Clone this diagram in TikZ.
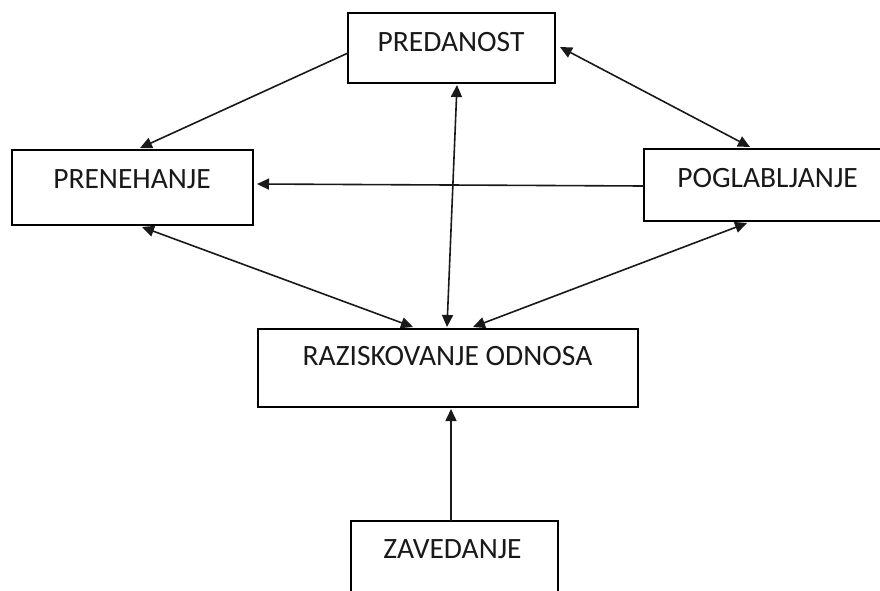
\documentclass[tikz,border=0pt]{standalone}
\usepackage{fontspec}
\setmainfont{Carlito}
\usetikzlibrary{arrows.meta,calc}
\tikzset{
  boxnode/.style={draw=black,line width=1.8pt,inner sep=0pt,outer sep=0pt},
  lbl/.style={anchor=base,inner sep=0pt,font=\fontsize{29.5}{33}\selectfont,text=black!90},
  conn/.style={line width=1.6pt,draw=black!90},
  tipa/.style={-{Triangle[length=12pt,width=11pt]}},
  tipb/.style={{Triangle[length=12pt,width=11pt]}-{Triangle[length=12pt,width=11pt]}}
}
\begin{document}
\begin{tikzpicture}[x=1pt,y=-1pt]
\useasboundingbox (0,0) rectangle (880,590);
\clip (0,0) rectangle (880,590);
\fill[white] (0,0) rectangle (880,590);
% boxes
\node[boxnode,minimum width=207pt,minimum height=70pt] (pred) at (451.5,48) {};
\node[boxnode,minimum width=241pt,minimum height=75pt] (pren) at (132.5,187.5) {};
\node[boxnode,minimum width=256pt,minimum height=72pt] (pogl) at (772,185) {};
\node[boxnode,minimum width=380pt,minimum height=78pt] (razi) at (448,368) {};
\node[boxnode,minimum width=207pt,minimum height=99pt] (zav) at (454.5,570.5) {};
% labels
\node[lbl] (tpred) at (451,51) {PREDANOST};
\node[lbl] (tpren) at (132,188) {PRENEHANJE};
\node[lbl] (tpogl) at (767.5,187) {POGLABLJANJE};
\node[lbl] (trazi) at (447.5,365) {RAZISKOVANJE ODNOSA};
\node[lbl] (tzav) at (452.5,558) {ZAVEDANJE};
% connectors
\draw[conn,tipa] ($(pred.north west)+(0,40)$) -- ($(pren.north west)+(128,-2)$);
\draw[conn,tipb] ($(pred.north east)+(5,34)$) -- ($(pogl.north west)+(106,-2)$);
\draw[conn,tipb] ($(pred.south west)+(109,2)$) -- ($(razi.north west)+(189,-2)$);
\draw[conn,tipa] ($(pogl.north west)+(0,37)$) -- ($(pren.north east)+(4,34)$);
\draw[conn,tipb] ($(pren.south west)+(130,2)$) -- ($(razi.north west)+(155,-2)$);
\draw[conn,tipb] ($(pogl.south west)+(103,2)$) -- ($(razi.north west)+(215,-2)$);
\draw[conn,tipa] ($(zav.north west)+(100,0)$) -- ($(razi.south west)+(193,2)$);
\end{tikzpicture}
\end{document}
